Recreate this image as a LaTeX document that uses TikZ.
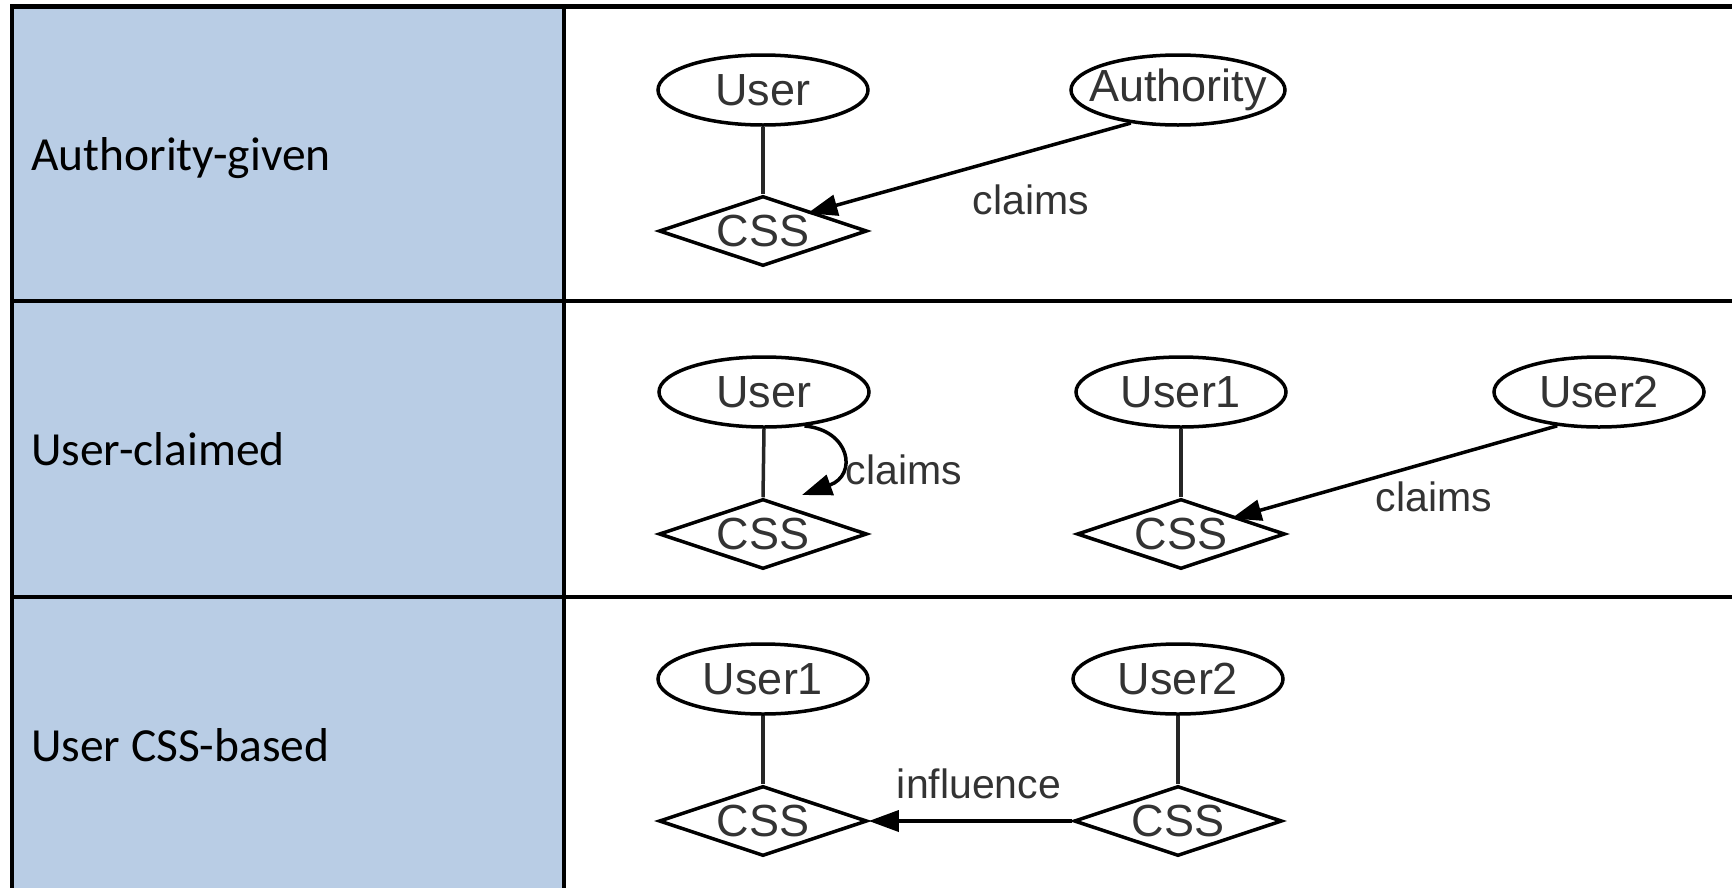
\documentclass[tikz,border=0pt]{standalone}
\usepackage{fontspec}
\usetikzlibrary{shapes.geometric,arrows.meta}
\newfontfamily\labfont{Carlito}
\newfontfamily\diafont{Liberation Sans}
\definecolor{labblue}{HTML}{B9CDE5}
\tikzset{
  grid/.style={line width=4.5pt,black},
  rowlabel/.style={anchor=base west,inner sep=0pt,font=\labfont\fontsize{47.5}{57}\selectfont},
  ent/.style={ellipse,draw,line width=3.5pt,minimum width=210pt,minimum height=70pt,inner sep=0pt,
     font=\diafont\fontsize{45}{54}\selectfont,text=black!80},
  rel/.style={diamond,draw,line width=3.5pt,minimum width=208pt,minimum height=70pt,aspect=3,inner sep=0pt,
     font=\diafont\fontsize{45}{54}\selectfont,text=black!80},
  link/.style={line width=3.5pt,black!85},
  arr/.style={line width=3.5pt,black,-{Triangle[length=30pt,width=21pt]}},
  elab/.style={inner sep=0pt,font=\diafont\fontsize{41}{49}\selectfont,text=black!80},
}
\begin{document}
\begin{tikzpicture}[x=1pt,y=-1pt]
\useasboundingbox (0,0) rectangle (1732,887);
% table
\fill[labblue] (12,6.5) rectangle (564,900);
\draw[grid] (12,900) -- (12,6.5) -- (1740,6.5);
\draw[grid] (12,301) -- (1740,301);
\draw[grid] (12,597) -- (1740,597);
\draw[grid] (564,6.5) -- (564,900);
% row labels
\node[rowlabel] (l1) at (31,170) {Authority-given};
\node[rowlabel] (l2) at (31,465) {User-claimed};
\node[rowlabel] (l3) at (31,761) {User CSS-based};
% row 1
\node[ent] (u1) at (763,90) {\makebox[0pt]{User}};
\node[rel] (c1) at (763,231) {\makebox[0pt]{CSS}};
\node[ent,minimum width=214pt] (au) at (1178,90) {\makebox[0pt]{Authority}};
\draw[link] (u1.south) -- (c1.north);
\draw[arr,shorten >=-6pt] (au.215) -- (c1.21);
\node[elab] (cl1) at (1031,200) {claims};
% row 2
\node[ent] (u2) at (764,392) {\makebox[0pt]{User}};
\node[rel] (c2) at (763,534) {\makebox[0pt]{CSS}};
\draw[link] (u2.south) -- (c2.north);
\coordinate (loopend) at (802,495);
\draw[arr] (u2.-40) .. controls (850,430) and (858,475) .. (loopend);
\node[elab] (cl2) at (904,470) {claims};
\node[ent] (u2a) at (1181,392) {\makebox[0pt]{User1}};
\node[rel] (c2a) at (1181,534) {\makebox[0pt]{CSS}};
\node[ent] (u2b) at (1599,392) {\makebox[0pt]{User2}};
\draw[link] (u2a.south) -- (c2a.north);
\draw[arr,shorten >=-6pt] (u2b.219) -- (c2a.17);
\node[elab] (cl3) at (1434,497) {claims};
% row 3
\node[ent] (u3a) at (763,679) {\makebox[0pt]{User1}};
\node[rel] (c3a) at (763,821) {\makebox[0pt]{CSS}};
\node[ent] (u3b) at (1178,679) {\makebox[0pt]{User2}};
\node[rel] (c3b) at (1178,821) {\makebox[0pt]{CSS}};
\draw[link] (u3a.south) -- (c3a.north);
\draw[link] (u3b.south) -- (c3b.north);
\draw[arr] (c3b.west) -- (c3a.east);
\node[elab] (inf) at (979,784) {influence};
\end{tikzpicture}
\end{document}
